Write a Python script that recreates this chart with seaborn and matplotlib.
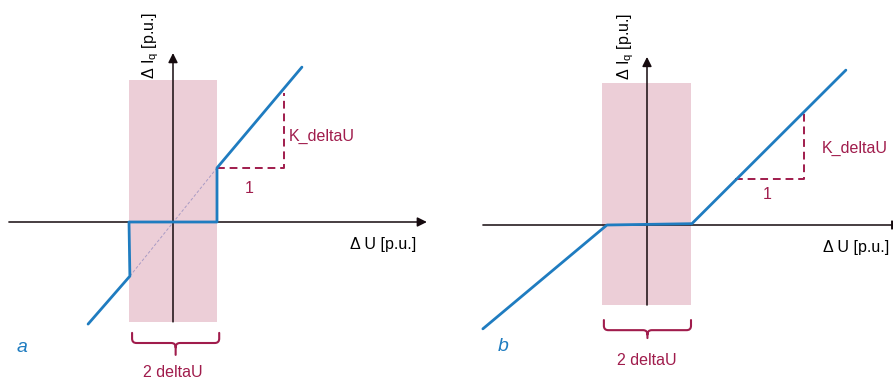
import matplotlib
matplotlib.use("Agg")
import matplotlib.pyplot as plt
from matplotlib.path import Path
from matplotlib.patches import PathPatch, Rectangle
import seaborn as sns
import pandas as pd

sns.set_theme(style="white")
plt.rcParams["font.family"] = ["Liberation Sans", "DejaVu Sans"]

# Characteristic (a): deadband with jump to the K line at the band edges
a_u = [-1.93, -0.98, -1.0, 1.0, 1.0, 2.93]
a_iq = [-2.32, -1.23, 0.0, 0.0, 1.23, 3.52]
# Characteristic (b): deadband, K line starting from zero at the band edges
b_u = [-3.73, -0.91, 1.02, 4.52]
b_iq = [-2.36, 0.0, 0.03, 3.52]

# Deadband half-width and slope triangles (K_deltaU over 1)
a_band = (-1.0, 1.0, -2.27, 3.23)
b_band = (-1.02, 1.0, -1.82, 3.23)
a_tri = (1.0, 2.52, 1.23, 2.93)
b_tri = (2.0, 3.57, 1.05, 2.55)

BLUE = "#1f7cc0"
PINK = "#ecced7"
MAROON = "#a01c4c"
AXIS = "#150a0e"

fig = plt.figure(figsize=(8.93, 3.81), dpi=100)
ax_a = fig.add_axes([0, 0, 446 / 893, 1])
ax_b = fig.add_axes([446 / 893, 0, 447 / 893, 1])
ax_a.set_xlim(-173 / 44, (446 - 173) / 44)
ax_a.set_ylim((222 - 381) / 44, 222 / 44)
ax_b.set_xlim((446 - 647) / 44, (893 - 647) / 44)
ax_b.set_ylim((225 - 381) / 44, 225 / 44)


def brace(ax, x0, x1, ytop, ybar, ytip, r=0.1):
    xm = (x0 + x1) / 2
    verts = [(x0, ytop), (x0, ybar + r), (x0, ybar), (x0 + r, ybar),
             (xm - r, ybar), (xm, ybar), (xm, ybar - r), (xm, ytip),
             (xm, ybar - r), (xm, ybar), (xm + r, ybar),
             (x1 - r, ybar), (x1, ybar), (x1, ybar + r), (x1, ytop)]
    codes = [Path.MOVETO, Path.LINETO, Path.CURVE3, Path.CURVE3,
             Path.LINETO, Path.CURVE3, Path.CURVE3, Path.LINETO,
             Path.MOVETO, Path.CURVE3, Path.CURVE3,
             Path.LINETO, Path.CURVE3, Path.CURVE3, Path.LINETO]
    ax.add_patch(PathPatch(Path(verts, codes), fill=False, edgecolor=MAROON,
                           lw=1.5, capstyle="round", joinstyle="round"))


def panel(ax, u, iq, band, tri, xspan, ytop, ulab, ylab, klab, onelab,
          brace_y, dlab_y, tag, tag_xy):
    x0, x1, y0, y1 = band
    ax.add_patch(Rectangle((x0, y0), x1 - x0, y1 - y0, facecolor=PINK,
                           edgecolor="none", zorder=0))
    # axes with arrows
    ax.annotate("", xy=(xspan[1], 0), xytext=(xspan[0], 0),
                annotation_clip=False,
                arrowprops=dict(arrowstyle="-|>", color=AXIS, lw=1.1,
                                mutation_scale=14, shrinkA=0, shrinkB=0),
                zorder=2)
    ax.annotate("", xy=(0, ytop), xytext=(0, y0),
                annotation_clip=False,
                arrowprops=dict(arrowstyle="-|>", color=AXIS, lw=1.1,
                                mutation_scale=14, shrinkA=0, shrinkB=0),
                zorder=2)
    df = pd.DataFrame({"u": u, "iq": iq})
    sns.lineplot(data=df, x="u", y="iq", sort=False, estimator=None,
                 color=BLUE, lw=2.0, ax=ax, zorder=4)
    # slope triangle
    tx0, tx1, ty0, ty1 = tri
    ax.plot([tx0, tx1, tx1], [ty0, ty0, ty1], color=MAROON, lw=1.4,
            ls=(0, (4, 2.5)), zorder=3)
    ax.text(*klab, "K_deltaU", color=MAROON, fontsize=11.5, va="center",
            ha="left")
    ax.text(*onelab, "1", color=MAROON, fontsize=11.5, va="center",
            ha="center")
    ax.text(*ulab, "Δ U [p.u.]", color="black", fontsize=11.5, va="center",
            ha="center")
    ax.text(*ylab, r"Δ I$_\mathregular{q}$ [p.u.]", color="black",
            fontsize=11.5, va="center", ha="center", rotation=90)
    brace(ax, *brace_y)
    ax.text(0, dlab_y, "2 deltaU", color=MAROON, fontsize=11.5, va="center",
            ha="center")
    ax.text(*tag_xy, tag, color=BLUE, fontsize=14, style="italic",
            va="center", ha="left")
    ax.set_axis_off()


panel(ax_a, a_u, a_iq, a_band, a_tri, (-3.73, 5.77), 3.84,
      (4.77, -0.52), (-0.5, 4.02), (2.64, 1.95), (1.73, 0.77),
      (-0.93, 1.05, -2.52, -2.75, -3.02), -3.43, "a", (-3.55, -2.86))
# dotted extension of the K line through the deadband
ax_a.plot([a_u[1], a_u[4]], [a_iq[1], a_iq[4]], color="#a99bc4", lw=0.7,
          ls=(0, (3, 2)), zorder=1)

panel(ax_b, b_u, b_iq, b_band, b_tri, (-3.73, 5.78), 3.82,
      (4.75, -0.52), (-0.48, 4.05), (3.98, 1.75), (2.73, 0.70),
      (-0.98, 1.0, -2.16, -2.39, -2.57), -3.07, "b", (-3.4, -2.77))

fig.savefig("out.png", dpi=100)
